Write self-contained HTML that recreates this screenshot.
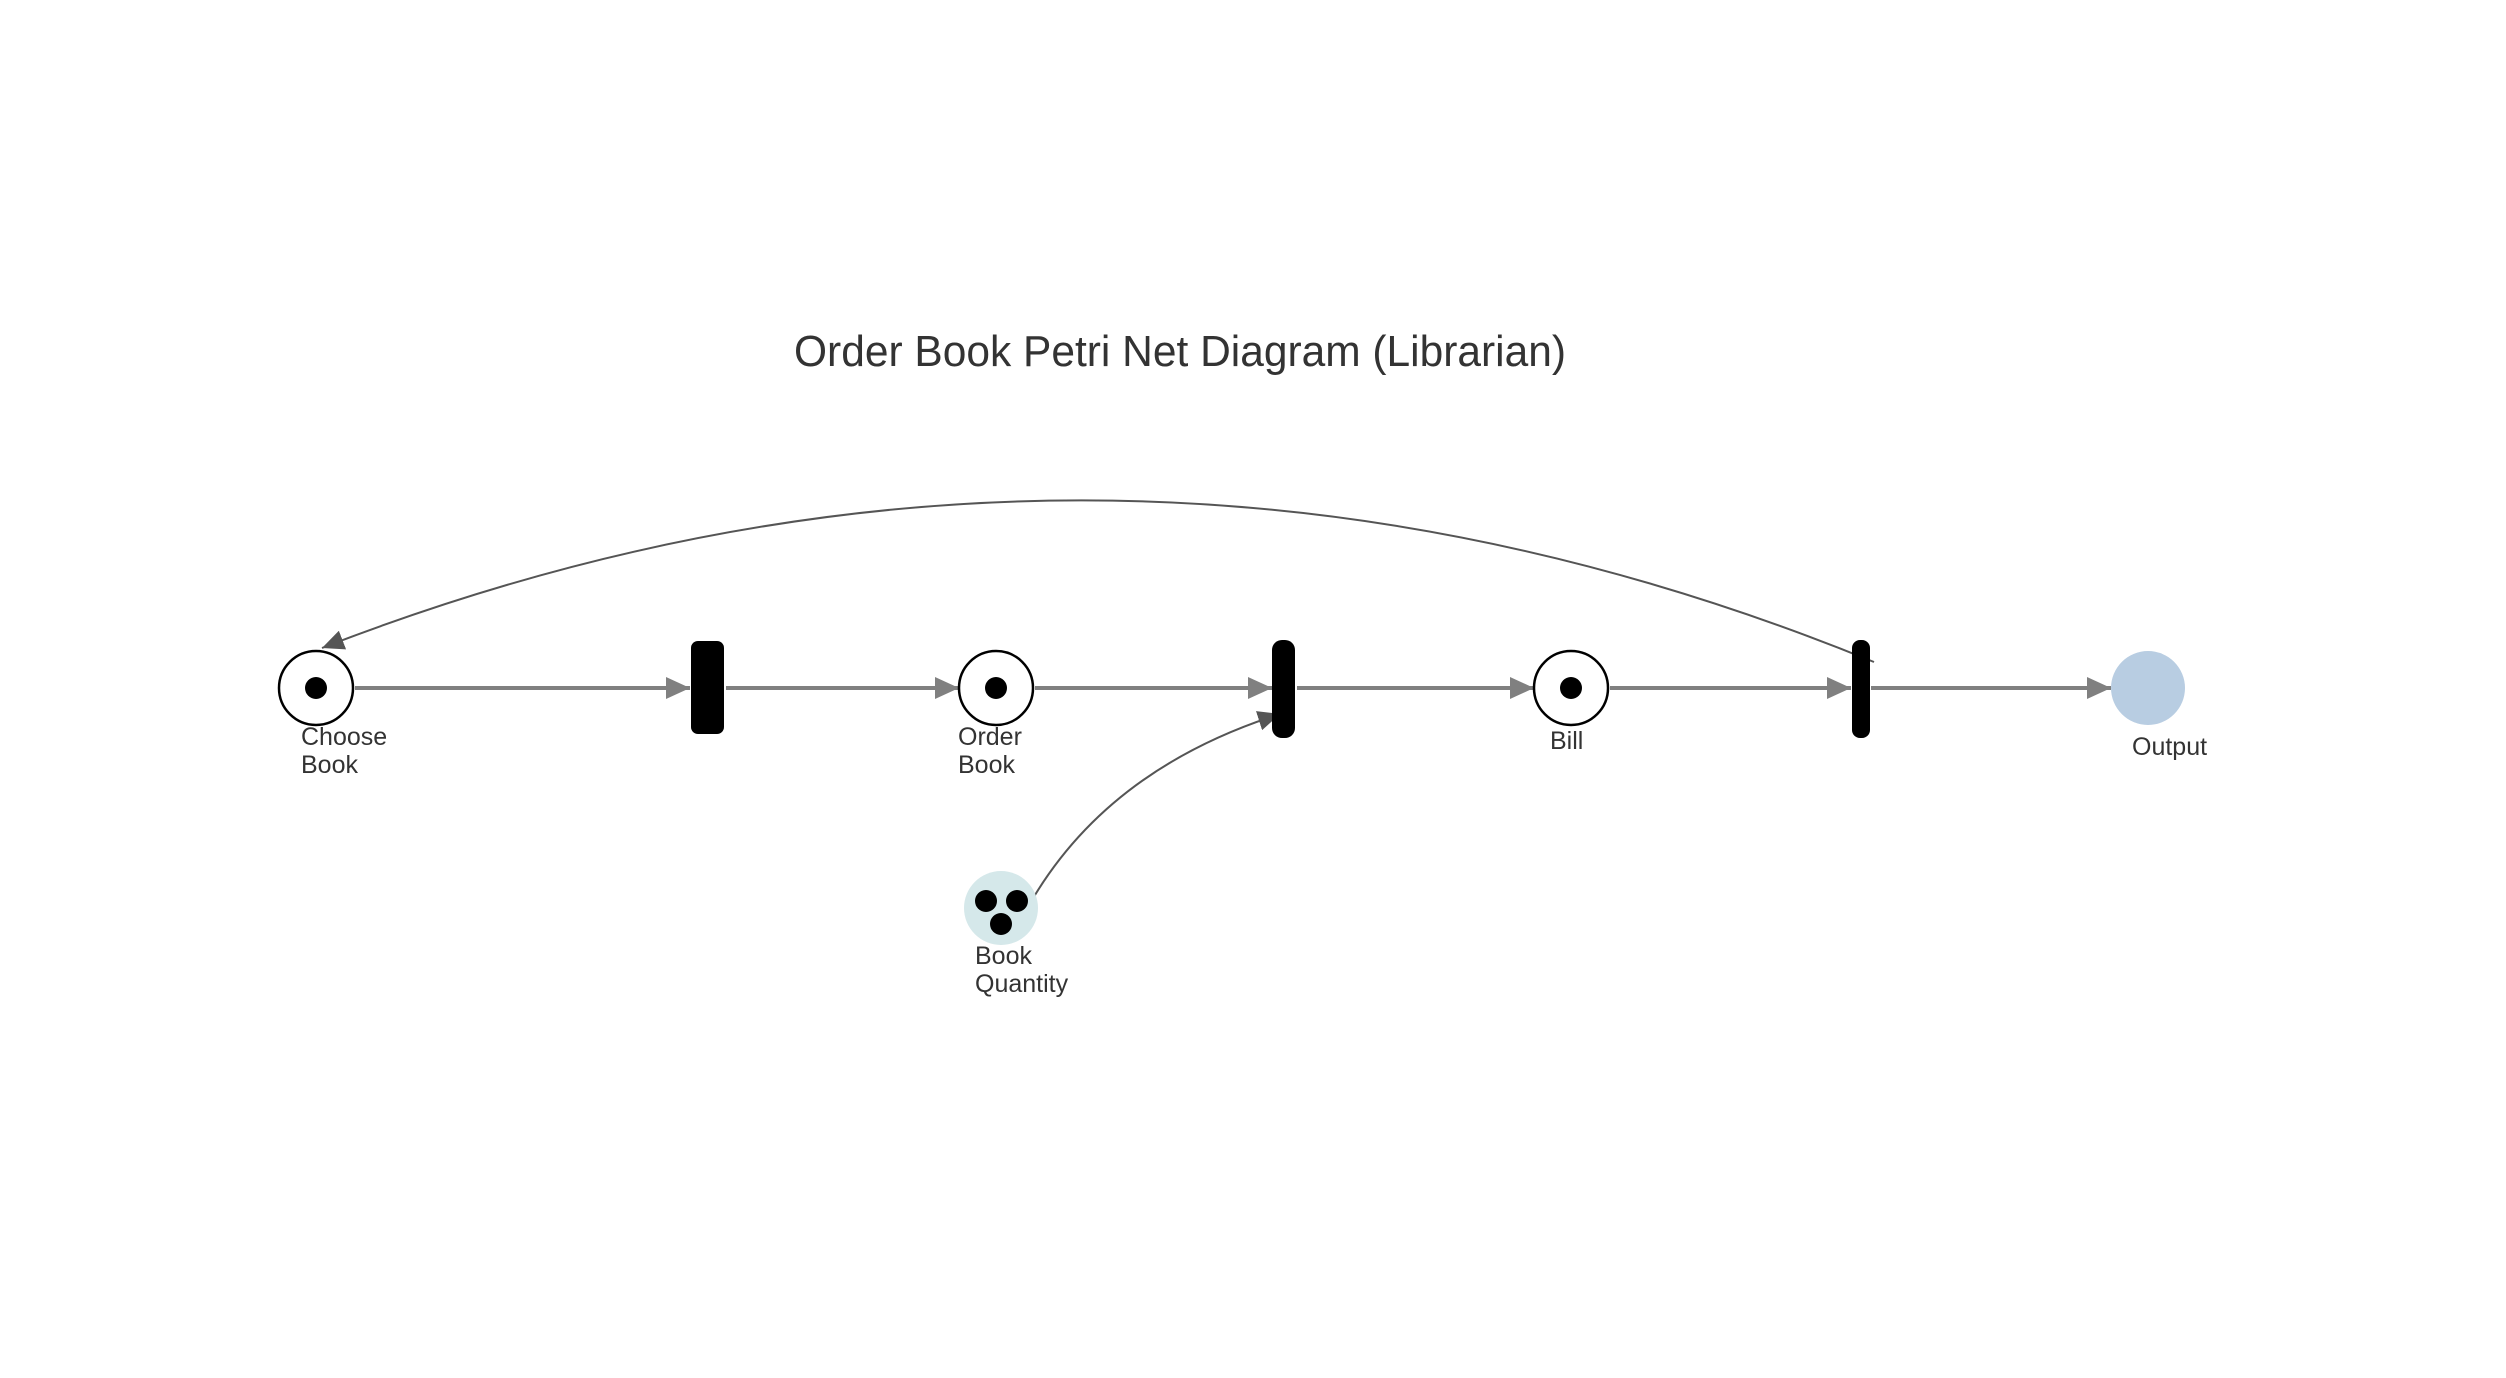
<!DOCTYPE html>
<html><head><meta charset="utf-8"><style>
html,body{margin:0;padding:0;background:#fff;}
svg{display:block;}
text{font-family:"Liberation Sans",Arial,sans-serif;fill:#333;}
</style></head><body>
<svg width="2506" height="1378" viewBox="0 0 2506 1378" xmlns="http://www.w3.org/2000/svg">
<defs>
<marker id="ag" markerWidth="24" markerHeight="22" refX="24" refY="11" orient="auto" markerUnits="userSpaceOnUse"><path d="M0,0 L24,11 L0,22 Z" fill="#808080"/></marker>
<marker id="ad" markerWidth="22" markerHeight="20" refX="22" refY="10" orient="auto" markerUnits="userSpaceOnUse"><path d="M0,0 L22,10 L0,20 Z" fill="#555"/></marker>
</defs>
<text x="1180" y="366" font-size="44" text-anchor="middle" textLength="772" lengthAdjust="spacingAndGlyphs">Order Book Petri Net Diagram (Librarian)</text>

<g stroke="#808080" stroke-width="4" fill="none" marker-end="url(#ag)">
<line x1="355" y1="688" x2="690" y2="688"/>
<line x1="726" y1="688" x2="959" y2="688"/>
<line x1="1035" y1="688" x2="1272" y2="688"/>
<line x1="1297" y1="688" x2="1534" y2="688"/>
<line x1="1610" y1="688" x2="1851" y2="688"/>
<line x1="1871" y1="688" x2="2111" y2="688"/>
</g>

<path d="M1874,662 Q1100,346 322,648" stroke="#555" stroke-width="2" fill="none" marker-end="url(#ad)"/>
<path d="M1032,900 Q1110,768 1280,714" stroke="#555" stroke-width="2" fill="none" marker-end="url(#ad)"/>

<circle cx="316" cy="688" r="37" fill="#fff" stroke="#000" stroke-width="2.5"/>
<circle cx="316" cy="688" r="11" fill="#000"/>
<circle cx="996" cy="688" r="37" fill="#fff" stroke="#000" stroke-width="2.5"/>
<circle cx="996" cy="688" r="11" fill="#000"/>
<circle cx="1571" cy="688" r="37" fill="#fff" stroke="#000" stroke-width="2.5"/>
<circle cx="1571" cy="688" r="11" fill="#000"/>
<circle cx="2148" cy="688" r="37" fill="#b8cde2"/>
<circle cx="1001" cy="908" r="37" fill="#d5e8ea"/>
<circle cx="986" cy="901" r="11" fill="#000"/>
<circle cx="1017" cy="901" r="11" fill="#000"/>
<circle cx="1001" cy="924" r="11" fill="#000"/>

<rect x="691" y="641" width="33" height="93" rx="7" fill="#000"/>
<rect x="1272" y="640" width="23" height="98" rx="10" fill="#000"/>
<rect x="1852" y="640" width="18" height="98" rx="8" fill="#000"/>

<g font-size="25">
<text x="301" y="745">Choose</text><text x="301" y="773">Book</text>
<text x="958" y="745">Order</text><text x="958" y="773">Book</text>
<text x="1550" y="749">Bill</text>
<text x="2132" y="755">Output</text>
<text x="975" y="964">Book</text><text x="975" y="992">Quantity</text>
</g>
</svg>
</body></html>
